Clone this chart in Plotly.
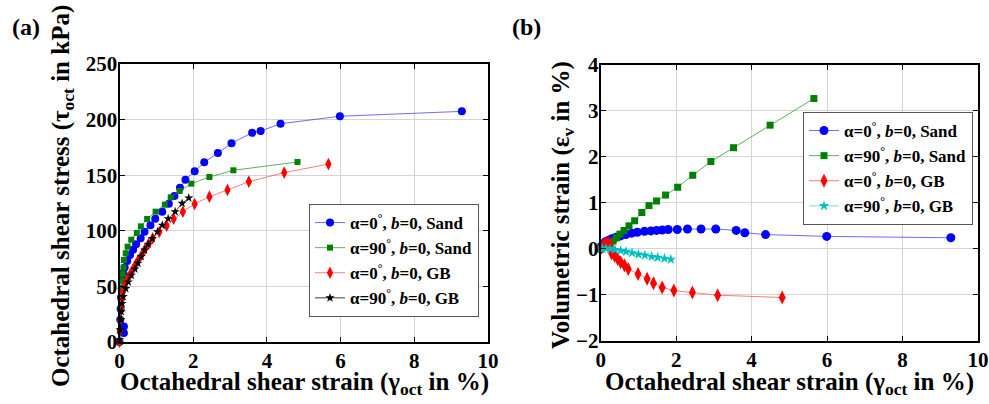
import plotly.graph_objects as go

# ---------------- Data: panel (a) shear stress vs shear strain ----------------
a_sand0_x = [0.0, 0.12, 0.12, 0.02, 0.03, 0.04, 0.06, 0.08, 0.10, 0.14, 0.21, 0.285, 0.37, 0.45, 0.575, 0.68, 0.84, 0.97, 1.16, 1.34, 1.49, 1.64, 1.79, 2.04, 2.30, 2.67, 3.04, 3.60, 3.83, 4.37, 5.98, 9.29]
a_sand0_y = [0.0, 8.0, 14.0, 20.0, 30.0, 40.0, 48.0, 56.0, 62.0, 67.0, 72.8, 78.2, 83.0, 87.9, 93.3, 99.2, 104.9, 110.9, 117.2, 124.4, 131.3, 138.8, 146.0, 153.5, 161.6, 170.0, 178.7, 188.2, 189.7, 196.3, 203.0, 207.4]

a_sand90_x = [0.0, 0.01, 0.02, 0.03, 0.04, 0.05, 0.07, 0.09, 0.11, 0.12, 0.17, 0.22, 0.32, 0.47, 0.58, 0.75, 0.98, 1.23, 1.39, 1.63, 1.95, 2.44, 3.09, 4.83]
a_sand90_y = [0.0, 10.0, 20.0, 30.0, 40.0, 48.0, 55.0, 61.0, 67.0, 73.7, 79.8, 85.7, 92.0, 98.0, 104.0, 110.6, 117.2, 123.5, 130.1, 135.8, 142.4, 148.4, 154.4, 161.9]

a_gb0_x = [0.0, 0.01, 0.02, 0.04, 0.06, 0.09, 0.13, 0.18, 0.24, 0.30, 0.36, 0.43, 0.51, 0.60, 0.69, 0.79, 0.90, 1.08, 1.28, 1.47, 1.72, 2.04, 2.44, 2.93, 3.51, 4.47, 5.67]
a_gb0_y = [0.0, 10.0, 20.0, 30.0, 38.0, 45.0, 50.0, 54.0, 58.0, 61.5, 65.0, 69.2, 73.8, 78.3, 83.4, 88.2, 93.3, 98.9, 104.6, 110.9, 117.2, 124.1, 130.7, 136.7, 144.2, 152.3, 160.0]

a_gb90_x = [0.0, 0.02, 0.04, 0.05, 0.07, 0.10, 0.17, 0.24, 0.32, 0.42, 0.50, 0.59, 0.68, 0.78, 0.89, 1.03, 1.16, 1.32, 1.51, 1.70, 1.88]
a_gb90_y = [2.0, 11.0, 20.0, 27.3, 34.7, 40.8, 48.0, 54.0, 60.0, 65.7, 70.8, 76.8, 82.8, 88.0, 93.0, 99.2, 105.0, 110.9, 117.2, 124.7, 129.5]

# ---------------- Data: panel (b) volumetric strain vs shear strain ----------------
b_sand0_x = [0.0, 0.02, 0.06, 0.12, 0.20, 0.29, 0.40, 0.53, 0.67, 0.82, 0.97, 1.16, 1.33, 1.48, 1.63, 1.79, 2.03, 2.30, 2.66, 3.05, 3.59, 3.82, 4.37, 5.99, 9.28]
b_sand0_y = [0.0, 0.05, 0.10, 0.15, 0.18, 0.22, 0.25, 0.28, 0.31, 0.34, 0.36, 0.38, 0.39, 0.40, 0.41, 0.42, 0.42, 0.43, 0.43, 0.43, 0.40, 0.35, 0.31, 0.27, 0.24]

b_sand90_x = [0.0, 0.08, 0.15, 0.25, 0.33, 0.42, 0.51, 0.62, 0.75, 0.90, 1.09, 1.28, 1.48, 1.72, 2.04, 2.44, 2.92, 3.52, 4.49, 5.65]
b_sand90_y = [0.0, 0.04, 0.08, 0.12, 0.17, 0.24, 0.32, 0.40, 0.50, 0.61, 0.79, 0.94, 1.04, 1.17, 1.34, 1.60, 1.90, 2.20, 2.69, 3.27]

b_gb0_x = [0.0, 0.05, 0.10, 0.15, 0.20, 0.25, 0.29, 0.37, 0.45, 0.53, 0.63, 0.73, 0.99, 1.23, 1.40, 1.63, 1.94, 2.43, 3.10, 4.81]
b_gb0_y = [0.0, 0.05, 0.10, 0.12, 0.12, 0.08, -0.10, -0.15, -0.22, -0.29, -0.36, -0.44, -0.55, -0.65, -0.75, -0.84, -0.91, -0.95, -1.01, -1.06]

b_gb90_x = [0.0, 0.05, 0.14, 0.25, 0.38, 0.53, 0.67, 0.83, 1.00, 1.17, 1.35, 1.51, 1.69, 1.86]
b_gb90_y = [0.0, 0.0, 0.01, 0.0, -0.02, -0.04, -0.06, -0.09, -0.12, -0.14, -0.17, -0.19, -0.21, -0.23]

names = ["α=0<sup>°</sup>, <b><i>b</i></b>=0, Sand",
         "α=90<sup>°</sup>, <b><i>b</i></b>=0, Sand",
         "α=0<sup>°</sup>, <b><i>b</i></b>=0, GB",
         "α=90<sup>°</sup>, <b><i>b</i></b>=0, GB"]

x_ticks = [0, 2, 4, 6, 8, 10]
a_y_ticks = [0, 50, 100, 150, 200, 250]
b_y_ticks = [-2, -1, 0, 1, 2, 3, 4]

FONT = "Liberation Serif"
W, H = 989, 404

fig = go.Figure()

def add(x, y, name, color, linecolor, symbol, size, xa, ya, legend):
    fig.add_trace(go.Scatter(
        x=x, y=y, name=name, mode="lines+markers",
        line=dict(color=linecolor, width=1),
        marker=dict(color=color, symbol=symbol, size=size, line=dict(width=0)),
        xaxis=xa, yaxis=ya, legend=legend, cliponaxis=False))

add(a_sand0_x, a_sand0_y, names[0], "#0000ff", "rgba(60,60,255,0.75)", "circle", 8, "x", "y", "legend")
add(a_sand90_x, a_sand90_y, names[1], "#008000", "rgba(40,150,40,0.75)", "square", 6, "x", "y", "legend")
add(a_gb0_x, a_gb0_y, names[2], "#ff0000", "rgba(255,80,80,0.75)", "diamond-tall", 9, "x", "y", "legend")
add(a_gb90_x, a_gb90_y, names[3], "#000000", "rgba(0,0,0,0.75)", "star", 7, "x", "y", "legend")

add(b_sand0_x, b_sand0_y, names[0], "#0000ff", "rgba(60,60,255,0.75)", "circle", 9, "x2", "y2", "legend2")
add(b_sand90_x, b_sand90_y, names[1], "#008000", "rgba(40,150,40,0.75)", "square", 7, "x2", "y2", "legend2")
add(b_gb0_x, b_gb0_y, names[2], "#ff0000", "rgba(255,80,80,0.75)", "diamond-tall", 10, "x2", "y2", "legend2")
add(b_gb90_x, b_gb90_y, names[3], "#00bfbf", "rgba(80,210,210,0.8)", "star", 8, "x2", "y2", "legend2")

tickfont = dict(family=FONT, size=21, color="black", weight="bold")

def axis_common():
    return dict(showline=True, linecolor="black", linewidth=2, mirror="allticks",
                ticks="inside", ticklen=5, tickwidth=1, tickcolor="black",
                showgrid=True, gridcolor="#d4d4d4", gridwidth=1,
                zeroline=False, tickfont=tickfont, automargin=False)

legfont = dict(family=FONT, size=17, color="black", weight="bold")

fig.update_layout(
    width=W, height=H, margin=dict(l=0, r=0, t=0, b=0, autoexpand=False),
    paper_bgcolor="white", plot_bgcolor="white",
    xaxis=dict(domain=[119.5/W, 488/W], range=[0, 10], tickvals=x_ticks, anchor="y",
               ticklabelstandoff=-1, **axis_common()),
    yaxis=dict(domain=[1-342/H, 1-64/H], range=[0, 250], tickvals=a_y_ticks, anchor="x",
               ticklabelstandoff=-4, **axis_common()),
    xaxis2=dict(domain=[600.7/W, 978/W], range=[0, 10], tickvals=x_ticks, anchor="y2",
                ticklabelstandoff=-1, **axis_common()),
    yaxis2=dict(domain=[1-340.7/H, 1-65/H], range=[-2, 4], tickvals=b_y_ticks, anchor="x2",
                ticklabelstandoff=-4, **axis_common()),
    legend=dict(x=309/W, y=1-204/H, xanchor="left", yanchor="top",
                bgcolor="white", bordercolor="#555555", borderwidth=1,
                font=legfont, tracegroupgap=0, itemwidth=30),
    legend2=dict(x=803/W, y=1-112/H, xanchor="left", yanchor="top",
                 bgcolor="white", bordercolor="#555555", borderwidth=1,
                 font=legfont, tracegroupgap=0, itemwidth=30),
    showlegend=True,
)

titlefont = dict(family=FONT, size=25, color="black", weight="bold")
ann = [
    dict(text="(a)", x=10/W, y=1-27/H, xanchor="left", yanchor="middle", font=dict(family=FONT, size=24, color="black", weight="bold")),
    dict(text="(b)", x=510/W, y=1-27/H, xanchor="left", yanchor="middle", font=dict(family=FONT, size=24, color="black", weight="bold")),
    dict(text="Octahedral shear strain (γ<sub>oct</sub> in %)", x=304/W, y=1-383/H, xanchor="center", yanchor="middle", font=titlefont),
    dict(text="Octahedral shear strain (γ<sub>oct</sub> in %)", x=789/W, y=1-383/H, xanchor="center", yanchor="middle", font=titlefont),
    dict(text="Octahedral shear stress (τ<sub>oct</sub> in kPa)", x=62/W, y=1-196/H, textangle=-90, xanchor="center", yanchor="middle", font=titlefont),
    dict(text="Volumetric strain (ε<sub>v</sub> in %)", x=562/W, y=1-205/H, textangle=-90, xanchor="center", yanchor="middle", font=titlefont),
]
for a in ann:
    a.update(xref="paper", yref="paper", showarrow=False)
fig.update_layout(annotations=ann)

fig.write_html("out.html")
